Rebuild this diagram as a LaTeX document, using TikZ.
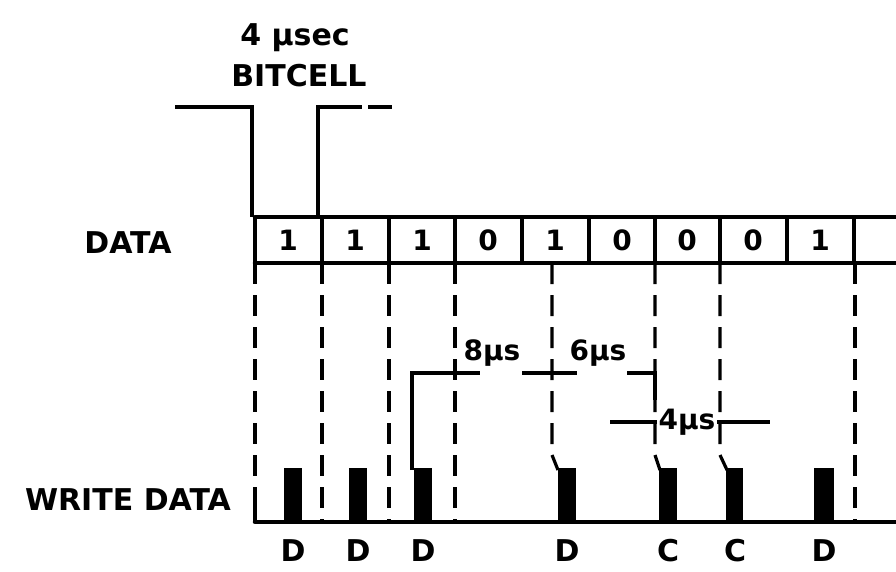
\documentclass[tikz,border=0pt]{standalone}
\usepackage{fontspec}
\setmainfont{DejaVu Sans}

\begin{document}
\begin{tikzpicture}[x=1pt,y=1pt,yscale=-1,xscale=1,
  lbl/.style={inner sep=0pt,font=\fontsize{30}{33}\selectfont\bfseries},
  small/.style={inner sep=0pt,font=\fontsize{28}{31}\selectfont\bfseries},
  thick line/.style={line width=4.5pt,line cap=round},
  guide/.style={line width=3.2pt,dash pattern=on 21pt off 11pt},
  pulse/.style={fill=black,draw=none}]
\useasboundingbox (0,0) rectangle (896,572);

%Bitcell bracket
\draw [line width=3.5pt]  (175,107) -- (252,107) -- (252,217) ;
\draw [line width=3.5pt]  (318,217) -- (318,107) -- (362,107) ;
\draw [line width=3.5pt]  (368,107) -- (392,107) ;

%Data row
\draw [thick line]  (255,217) -- (896,217) ;
\draw [thick line]  (255,263) -- (896,263) ;
\draw [line width=4pt]  (255,217) -- (255,263) ;
\draw [line width=3.2pt]  (322,217) -- (322,263) ;
\draw [line width=3.2pt]  (389,217) -- (389,263) ;
\draw [line width=3.2pt]  (455,217) -- (455,263) ;
\draw [line width=3.2pt]  (522,217) -- (522,263) ;
\draw [line width=3.2pt]  (589,217) -- (589,263) ;
\draw [line width=3.2pt]  (655,217) -- (655,263) ;
\draw [line width=3.2pt]  (720,217) -- (720,263) ;
\draw [line width=3.2pt]  (787,217) -- (787,263) ;
\draw [line width=3.2pt]  (854,217) -- (854,263) ;

%Dashed guides
\draw [guide]  (255,263) -- (255,522) ;
\draw [guide]  (322,263) -- (322,522) ;
\draw [guide]  (389,263) -- (389,522) ;
\draw [guide]  (455,263) -- (455,522) ;
\draw [guide]  (552,263) -- (552,455) -- (558,470) ;
\draw [guide]  (655,263) -- (655,455) -- (660,470) ;
\draw [guide]  (720,263) -- (720,455) -- (727,470) ;
\draw [guide]  (855,263) -- (855,522) ;

%Write data baseline
\draw [thick line]  (255,522) -- (896,522) ;
\draw [line width=3.2pt]  (255,505) -- (255,522) ;

%Pulses
\fill [pulse]  (284,468) rectangle (302,522) ;
\fill [pulse]  (349,468) rectangle (367,522) ;
\fill [pulse]  (414,468) rectangle (432,522) ;
\fill [pulse]  (558,468) rectangle (576,522) ;
\fill [pulse]  (659,468) rectangle (677,522) ;
\fill [pulse]  (726,468) rectangle (743,522) ;
\fill [pulse]  (814,468) rectangle (834,522) ;

%Timing marks
\draw [line width=3.5pt]  (412,470) -- (412,373) -- (480,373) ;
\draw [line width=3.5pt]  (522,373) -- (577,373) ;
\draw [line width=3.5pt]  (627,373) -- (655,373) -- (655,400) ;
\draw [line width=3.5pt]  (610,422) -- (657,422) ;
\draw [line width=3.5pt]  (716,422) -- (770,422) ;

% Text Node
\draw (295,38) node [lbl] (usec) {4 μsec};
% Text Node
\draw (299,76) node [lbl] (bitcell) {BITCELL};
% Text Node
\draw (128,243) node [lbl] (data) {DATA};
% Text Node
\draw (128,500) node [lbl] (wdata) {WRITE DATA};

% Text Node
\draw (288,240) node [small] (b1) {1};
% Text Node
\draw (355,240) node [small] (b2) {1};
% Text Node
\draw (422,240) node [small] (b3) {1};
% Text Node
\draw (488,240) node [small] (b4) {0};
% Text Node
\draw (555,240) node [small] (b5) {1};
% Text Node
\draw (622,240) node [small] (b6) {0};
% Text Node
\draw (687,240) node [small] (b7) {0};
% Text Node
\draw (753,240) node [small] (b8) {0};
% Text Node
\draw (820,240) node [small] (b9) {1};

% Text Node
\draw (492,353) node [small] (t8) {8μs};
% Text Node
\draw (598,353) node [small] (t6) {6μs};
% Text Node
\draw (687,422) node [small,fill=white,inner xsep=2pt] (t4) {4μs};

% Text Node
\draw (293,551) node [lbl] (p1) {D};
% Text Node
\draw (358,551) node [lbl] (p2) {D};
% Text Node
\draw (423,551) node [lbl] (p3) {D};
% Text Node
\draw (567,551) node [lbl] (p4) {D};
% Text Node
\draw (668,551) node [lbl] (p5) {C};
% Text Node
\draw (735,551) node [lbl] (p6) {C};
% Text Node
\draw (824,551) node [lbl] (p7) {D};

\end{tikzpicture}
\end{document}
